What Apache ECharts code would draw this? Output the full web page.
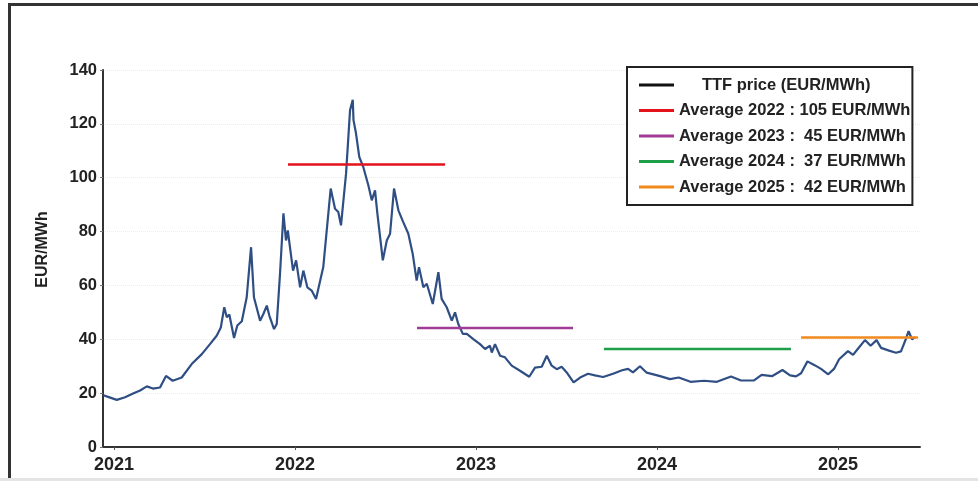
<!DOCTYPE html>
<html>
<head>
<meta charset="utf-8">
<script src="https://cdn.jsdelivr.net/npm/echarts@6/dist/echarts.min.js"></script>
<style>
html,body{margin:0;padding:0;background:#fff;}
#c{width:978px;height:481px;}
</style>
</head>
<body>
<div id="c"></div>
<script>
// ---- data ----
const ttfYears = [2020.941,2020.967,2021.015,2021.061,2021.105,2021.144,2021.181,2021.215,2021.254,2021.287,2021.324,2021.374,2021.429,2021.485,2021.530,2021.567,2021.590,2021.609,2021.623,2021.637,2021.663,2021.681,2021.706,2021.733,2021.757,2021.773,2021.807,2021.825,2021.844,2021.858,2021.884,2021.899,2021.917,2021.936,2021.950,2021.960,2021.989,2022.006,2022.028,2022.046,2022.068,2022.092,2022.116,2022.156,2022.197,2022.221,2022.239,2022.254,2022.282,2022.304,2022.319,2022.323,2022.337,2022.355,2022.377,2022.405,2022.424,2022.442,2022.455,2022.485,2022.507,2022.525,2022.547,2022.571,2022.598,2022.626,2022.650,2022.672,2022.685,2022.709,2022.728,2022.761,2022.792,2022.810,2022.838,2022.866,2022.884,2022.902,2022.927,2022.949,2022.985,2023.022,2023.050,2023.077,2023.087,2023.105,2023.133,2023.160,2023.197,2023.243,2023.294,2023.326,2023.363,2023.391,2023.418,2023.446,2023.473,2023.501,2023.539,2023.575,2023.619,2023.657,2023.702,2023.757,2023.807,2023.840,2023.867,2023.906,2023.943,2024.017,2024.072,2024.120,2024.185,2024.260,2024.331,2024.409,2024.464,2024.536,2024.578,2024.635,2024.693,2024.735,2024.768,2024.796,2024.831,2024.873,2024.906,2024.946,2024.978,2025.006,2025.055,2025.083,2025.110,2025.149,2025.180,2025.213,2025.238,2025.282,2025.320,2025.348,2025.376,2025.390,2025.409,2025.425];
const ttfValues = [19.2,18.6,17.5,18.5,19.9,21.0,22.5,21.7,22.1,26.4,24.6,25.8,30.8,34.5,38.2,41.3,44.4,51.9,48.2,49.2,40.5,45.1,46.7,55.6,74.2,55.6,46.9,49.4,52.5,48.8,43.8,45.7,64.3,86.8,76.7,80.4,65.5,69.3,59.3,65.5,59.3,58.1,55.0,66.8,96.0,88.5,87.3,82.3,101.6,125.1,128.9,121.4,116.4,107.7,104.0,97.2,91.6,95.3,86.7,69.3,76.7,79.2,96.0,87.9,83.5,79.2,71.8,61.8,66.8,59.3,60.6,53.1,64.9,55.0,51.9,46.9,50.0,45.7,42.0,42.0,40.1,38.2,36.4,37.6,35.1,38.2,33.9,33.3,30.2,28.3,26.1,29.5,29.8,33.9,30.2,28.9,29.8,27.7,24.0,25.8,27.2,26.6,26.0,27.2,28.5,29.0,27.7,30.0,27.6,26.3,25.2,25.8,24.2,24.6,24.2,26.2,24.7,24.7,26.8,26.3,28.6,26.6,26.2,27.4,31.8,30.3,29.0,27.0,29.0,32.6,35.6,34.2,36.5,39.7,37.6,39.7,36.8,35.8,35.0,35.5,40.3,43.0,40.0,40.8];

const avgNames  = ['Average 2022 : 105 EUR/MWh','Average 2023 :  45 EUR/MWh','Average 2024 :  37 EUR/MWh','Average 2025 :  42 EUR/MWh'];
const avgValues = [104.9, 44.2, 36.4, 40.7];
const avgStart  = [2021.961, 2022.674, 2023.707, 2024.796];
const avgEnd    = [2022.829, 2023.536, 2024.740, 2025.442];
const avgColors = ['#e3121b','#a03c96','#1e9e48','#f08a1e'];

const ttfName = 'TTF price (EUR/MWh)';
const yearTicks = [2021, 2022, 2023, 2024, 2025];

// ---- chart ----
const chart = echarts.init(document.getElementById('c'), null, {renderer:'canvas'});
const FONT = '"Liberation Sans", Arial, sans-serif';

const series = [{
  name: ttfName,
  type: 'line',
  data: ttfYears.map((y, i) => [y, ttfValues[i]]),
  showSymbol: false,
  symbol: 'none',
  lineStyle: { color: '#2f4f84', width: 2.2 },
  itemStyle: { color: '#111' },
  z: 3
}];
avgNames.forEach((n, i) => {
  series.push({
    name: n,
    type: 'line',
    data: [[avgStart[i], avgValues[i]], [avgEnd[i], avgValues[i]]],
    showSymbol: false,
    symbol: 'none',
    lineStyle: { color: avgColors[i], width: 2.5 },
    itemStyle: { color: avgColors[i] },
    z: 4
  });
});

chart.setOption({
  animation: false,
  backgroundColor: '#fff',
  grid: { left: 103, right: 58, top: 70, bottom: 34 },
  legend: {
    orient: 'vertical',
    left: 627,
    top: 67,
    padding: [9, 2, 9, 12],
    borderColor: '#222',
    borderWidth: 2,
    backgroundColor: '#fff',
    itemWidth: 35,
    itemHeight: 3,
    itemGap: 7.5,
    icon: 'rect',
    selectedMode: false,
    textStyle: { fontFamily: FONT, fontWeight: 'bold', fontSize: 16.5, color: '#222', lineHeight: 18 },
    formatter: function (name) { return name === ttfName ? '     ' + name : name; },
    data: [{ name: ttfName, itemStyle: { color: '#111' } }].concat(
      avgNames.map((n, i) => ({ name: n, itemStyle: { color: avgColors[i] } })))
  },
  xAxis: {
    type: 'value',
    min: 2020.939,
    max: 2025.453,
    axisLine: { show: true, lineStyle: { color: '#333', width: 2 } },
    axisTick: { show: true, length: 3, customValues: yearTicks, lineStyle: { color: '#555' } },
    axisLabel: {
      customValues: yearTicks,
      formatter: v => String(Math.round(v)),
      fontFamily: FONT,
      fontWeight: 'bold', fontSize: 18, color: '#222', margin: 9
    },
    splitLine: { show: false }
  },
  yAxis: {
    type: 'value',
    min: 0,
    max: 140,
    interval: 20,
    name: 'EUR/MWh',
    nameLocation: 'middle',
    nameGap: 52,
    nameTextStyle: { fontFamily: FONT, fontWeight: 'bold', fontSize: 16, color: '#222', padding: [0, 0, 0, 18] },
    axisLine: { show: true, lineStyle: { color: '#333', width: 2 } },
    axisTick: { show: true, length: 3, lineStyle: { color: '#777' } },
    axisLabel: { fontFamily: FONT, fontWeight: 'bold', fontSize: 16.5, color: '#222', margin: 6 },
    splitLine: { show: true, lineStyle: { color: '#ececec', type: 'dotted', width: 1 } }
  },
  graphic: [
    { type: 'rect', shape: { x: 8, y: 3, width: 972, height: 3 }, style: { fill: '#333' }, silent: true },
    { type: 'rect', shape: { x: 8, y: 3, width: 3, height: 480 }, style: { fill: '#333' }, silent: true },
    { type: 'rect', shape: { x: 0, y: 478, width: 978, height: 3 }, style: { fill: '#e4e4e4' }, silent: true }
  ],
  series: series
});
</script>
</body>
</html>
